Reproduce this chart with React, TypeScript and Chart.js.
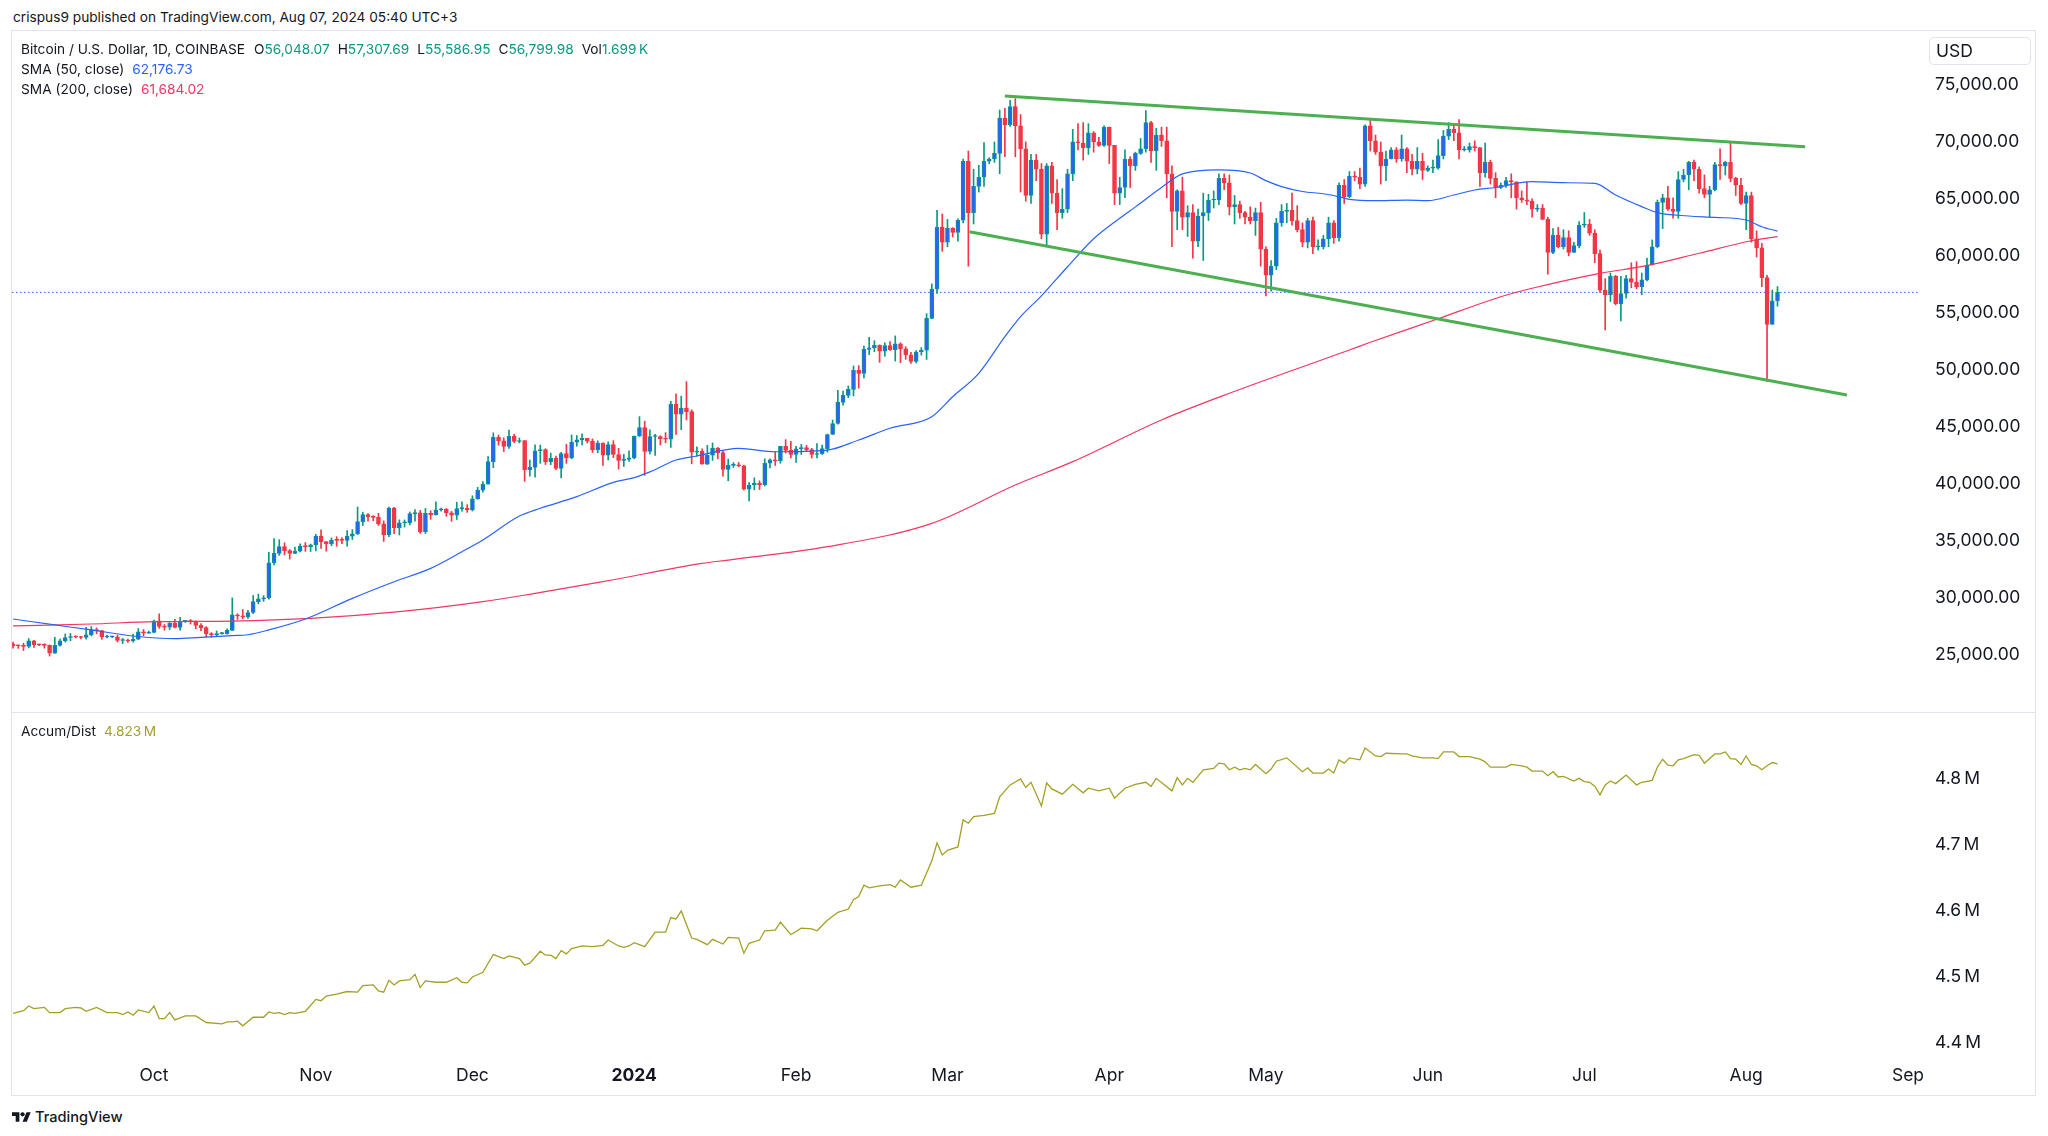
import React, { useEffect, useRef } from "react";
import { Chart, registerables } from "chart.js";

Chart.register(...registerables);

const FONT = "Inter, 'Noto Sans', Roboto, sans-serif";
const TEXT = "#131722";
const UP_BODY = "#2962FF";
const UP_WICK = "#089981";
const DOWN = "#F23645";
const SMA50_COLOR = "#2962FF";
const SMA200_COLOR = "#F23661";
const AD_COLOR = "#A3A026";
const TREND_COLOR = "#4CAF50";
const FRAME = "#E0E3EB";

// x axis = days since 1 Oct 2023
const X_MIN = -27.2;
const X_MAX = 338.3;
const monthTickDays = [0, 31, 61, 92, 123, 152, 183, 213, 244, 274, 305, 336];
const monthTickLabels = ["Oct", "Nov", "Dec", "2024", "Feb", "Mar", "Apr", "May", "Jun", "Jul", "Aug", "Sep"];
const priceTicks = [25000, 30000, 35000, 40000, 45000, 50000, 55000, 60000, 65000, 70000, 75000];
const adTicks = [4.4, 4.5, 4.6, 4.7, 4.8];
const PRICE_MIN = 19991;
const PRICE_MAX = 79728;
const AD_MIN = 4.3742;
const AD_MAX = 4.9;

// Daily candles [high, low, close]; open of each day = previous day's close
const openSep4 = 25970;
const sep2023 = [
  [26120, 25600, 25820], [25880, 25570, 25790], [26020, 25380, 25750], [26430, 25610, 26240], [26280, 25660, 25900],
  [25940, 25800, 25890], [25980, 25590, 25840], [25880, 24900, 25160], [26550, 25130, 25840], [26390, 25770, 26230],
  [26840, 26130, 26530], [26880, 26230, 26600], [26680, 26480, 26570], [26620, 26410, 26530], [27410, 26390, 26760],
  [27490, 26670, 27210], [27380, 26850, 27130], [27160, 26370, 26570], [26740, 26480, 26580], [26640, 26510, 26580],
  [26730, 26130, 26260], [26440, 25990, 26300], [26390, 26090, 26220], [26830, 26120, 26370], [27310, 26340, 27030],
  [27230, 26670, 26910], [27090, 26890, 26970],
];
const oct2023 = [
  [28050, 26960, 27990], [28600, 27330, 27500], [27670, 27170, 27430], [27830, 27220, 27790], [28120, 27360, 27410],
  [28290, 27180, 27950], [28020, 27850, 27970], [28110, 27700, 27930], [27990, 27290, 27590], [27740, 27120, 27390],
  [27480, 26560, 26870], [26960, 26550, 26760], [27100, 26690, 26860], [26970, 26820, 26860], [27290, 26810, 27150],
  [30000, 27120, 28520], [28610, 28110, 28410], [28980, 28160, 28330], [28910, 28190, 28720], [30210, 28620, 29680],
  [30340, 29480, 29920], [30200, 29700, 29990], [33990, 29880, 33080], [35200, 32900, 33900], [35100, 33730, 34500],
  [34830, 33770, 34150], [34240, 33400, 33900], [34460, 33880, 34090], [34740, 34040, 34540], [34850, 34080, 34500],
  [34720, 34070, 34650],
];
const nov2023 = [
  [35570, 34120, 35420], [35980, 34350, 34940], [34940, 34100, 34730], [35270, 34580, 35080], [35370, 34530, 35050],
  [35290, 34750, 35040], [35900, 34530, 35420], [35990, 35120, 35630], [37970, 35550, 36690], [37520, 36350, 37310],
  [37400, 36720, 37130], [37220, 36770, 37070], [37420, 36350, 36490], [36760, 34950, 35550], [37960, 35370, 37880],
  [37940, 35630, 36160], [36850, 35520, 36590], [36840, 36210, 36590], [37540, 36400, 37390], [37750, 36740, 37460],
  [37670, 35660, 35800], [37850, 35650, 37420], [37640, 36890, 37290], [38420, 37250, 37720], [37880, 37600, 37790],
  [37840, 37160, 37460], [37590, 36720, 37250], [38390, 36880, 37830], [38430, 37600, 37850], [38170, 37500, 37720],
];
const dec2023 = [
  [38960, 37620, 38690], [39700, 38650, 39450], [40200, 39280, 39970], [42400, 39970, 41950], [44480, 41420, 44080],
  [44290, 43400, 43770], [44050, 42840, 43290], [44710, 43110, 44170], [44360, 43610, 43720], [44030, 43590, 43790],
  [43800, 40220, 41240], [42100, 40680, 41450], [43430, 40600, 42890], [43400, 41800, 43020], [43090, 41700, 41930],
  [42700, 41680, 42240], [42430, 41250, 41360], [42760, 40530, 42660], [43480, 41800, 42270], [44290, 42200, 43660],
  [44230, 43300, 43860], [44400, 43410, 43990], [44000, 43590, 43740], [43950, 42760, 43010], [43780, 42740, 43590],
  [43600, 41630, 42520], [43680, 42110, 43440], [43790, 42310, 42580], [43130, 41300, 42070], [42600, 41530, 42140],
  [42890, 41970, 42280],
];
const jan2024 = [
  [44200, 42190, 44180], [45900, 44170, 44950], [45500, 40750, 42840], [44750, 42630, 44160], [44350, 42500, 44160],
  [44230, 43420, 43970], [44500, 43600, 43930], [47250, 43200, 46970], [47900, 44340, 46120], [47700, 44750, 46650],
  [48970, 45610, 46340], [46500, 41760, 42780], [43250, 42440, 42850], [43070, 41720, 41730], [43380, 41700, 42510],
  [43590, 42060, 43150], [43200, 42200, 42740], [42930, 40680, 41260], [42180, 40270, 41620], [41870, 41450, 41660],
  [41880, 41500, 41580], [41650, 39440, 39530], [40120, 38510, 39900], [40530, 39480, 40080], [40270, 39500, 39930],
  [42200, 39820, 41810], [42200, 41400, 42120], [42830, 41620, 42030], [43310, 41810, 43300], [43880, 42700, 42940],
  [43740, 42280, 42580],
];
const feb2024 = [
  [43290, 41880, 43080], [43470, 42580, 43190], [43380, 42880, 43000], [43120, 42270, 42580], [43530, 42270, 42660],
  [43400, 42580, 43090], [44370, 42780, 44330], [45600, 44330, 45300], [48200, 45240, 47150], [48150, 46900, 47770],
  [48590, 47570, 48290], [50350, 47720, 49960], [50380, 48400, 49700], [52080, 49300, 51800], [52850, 51340, 51930],
  [52560, 51600, 52160], [52200, 50660, 51650], [52380, 51200, 52130], [52480, 51700, 51780], [52980, 50770, 52280],
  [52380, 50630, 51850], [52030, 50930, 51320], [51550, 50560, 50740], [51700, 50610, 51570], [51960, 51290, 51730],
  [54930, 50920, 54520], [57550, 54480, 57090], [64000, 56700, 62500], [63680, 60400, 61200],
];
const mar2024 = [
  [63200, 60800, 62440], [62480, 61670, 62050], [63250, 61300, 63130], [68500, 62890, 68300], [69200, 59100, 63800],
  [67600, 62800, 66100], [67950, 65600, 66900], [69950, 66100, 68300], [68600, 68080, 68500], [70000, 68200, 69000],
  [72800, 67200, 72100], [72950, 68700, 71480], [73650, 71350, 73100], [73800, 68700, 71400], [72400, 65600, 69400],
  [70000, 64800, 65300], [68900, 64600, 68400], [68900, 66600, 67600], [68100, 61500, 61900], [68100, 60800, 67900],
  [68200, 64600, 65500], [66700, 62300, 63800], [65900, 63300, 64100], [67600, 63800, 67200], [71100, 66600, 70000],
  [71600, 69300, 69900], [71700, 68400, 69500], [71600, 68900, 70800], [70900, 69100, 70000], [70400, 69600, 69700],
  [71400, 69600, 71300],
];
const apr2024 = [
  [71300, 68100, 69700], [69700, 64500, 65500], [66900, 64500, 66000], [69300, 65100, 68500], [68700, 66000, 67900],
  [69100, 67500, 69000], [70300, 68900, 69400], [72750, 69100, 71700], [71800, 68200, 69200], [71200, 67500, 70600],
  [71300, 69600, 70100], [71300, 65100, 67200], [67900, 60800, 63900], [65800, 62300, 65700], [66900, 62300, 63400],
  [64400, 61700, 63800], [64500, 59800, 61300], [64100, 60800, 63500], [65500, 59600, 63800], [65400, 63100, 64900],
  [65700, 64200, 64900], [67200, 64500, 66800], [67200, 65800, 66400], [67100, 63600, 64300], [65300, 62800, 64500],
  [64800, 63300, 63800], [63900, 62800, 63400], [64300, 62800, 63100], [64200, 61800, 63800], [64700, 59100, 60600],
];
const may2024 = [
  [60800, 56500, 58300], [59600, 56900, 59100], [63300, 58800, 62900], [64500, 62600, 63900], [64600, 62900, 64000],
  [65500, 62700, 63100], [64400, 62100, 62300], [62900, 60800, 61200], [63300, 60700, 63100], [63400, 60200, 60800],
  [61400, 60500, 60800], [61800, 60600, 61500], [63400, 60800, 62900], [63100, 61100, 61600], [66400, 61300, 66200],
  [66700, 64600, 65200], [67400, 65100, 67000], [67400, 66600, 66900], [67700, 65900, 66300], [71500, 66100, 71400],
  [71900, 69200, 70100], [70600, 68900, 69100], [70000, 66300, 67900], [69200, 66600, 68500], [69500, 68500, 69300],
  [69500, 68200, 68500], [70600, 68300, 69400], [69500, 67300, 68300], [68900, 67100, 67600], [69500, 67200, 68300],
  [69000, 66700, 67500],
];
const jun2024 = [
  [67900, 67400, 67700], [68400, 67300, 67700], [70200, 67600, 68800], [71000, 68500, 70500], [71700, 70200, 71100],
  [71600, 70100, 70800], [71950, 68500, 69300], [69600, 69200, 69300], [69900, 69100, 69600], [70100, 69200, 69500],
  [69500, 66100, 67300], [69900, 66900, 68200], [68400, 66300, 66800], [67300, 65100, 66000], [66400, 65900, 66200],
  [66900, 66000, 66600], [67200, 65100, 66500], [66500, 64100, 65100], [65700, 64700, 64900], [66500, 64500, 64800],
  [65000, 63400, 64100], [64500, 63900, 64200], [64500, 63200, 63200], [63400, 58400, 60300], [62400, 60200, 61800],
  [62500, 60700, 60800], [62300, 60600, 61600], [62200, 60000, 60300], [61200, 60300, 60900], [63000, 60700, 62700],
];
const jul2024 = [
  [63800, 62500, 62800], [63200, 61800, 62000], [62300, 59400, 60200], [60500, 56800, 57000], [58000, 53500, 56600],
  [58500, 56000, 58200], [58300, 55700, 55800], [58200, 54300, 56700], [58300, 56300, 58000], [59400, 57200, 57700],
  [59500, 57100, 57300], [58500, 56600, 57900], [59800, 57800, 59200], [61400, 59200, 60800], [64900, 60700, 64700],
  [65400, 62400, 65100], [66100, 64000, 64100], [65100, 63300, 63900], [67400, 63300, 66700], [67600, 66500, 67100],
  [68300, 65800, 68200], [68400, 66600, 67600], [67800, 65500, 65900], [67100, 65100, 65400], [66100, 63400, 65800],
  [68200, 65700, 68000], [69400, 66700, 67900], [68300, 67100, 68200], [70000, 66500, 66800], [66900, 65300, 66200],
  [66800, 64500, 64600],
];
const aug2024 = [
  [65600, 62300, 65300], [65600, 61200, 61500], [62200, 59900, 60700], [61100, 57300, 58100], [58300, 49000, 54000],
  [57000, 54000, 56048.07], [57307.69, 55586.95, 56799.98],
];

const monthBlocks: [number, number[][]][] = [
  [-27, sep2023], [0, oct2023], [31, nov2023], [61, dec2023], [92, jan2024], [123, feb2024],
  [152, mar2024], [183, apr2024], [213, may2024], [244, jun2024], [274, jul2024], [305, aug2024],
];

// [day, value]
const sma50 = [
  [-27, 28150], [-19, 27630], [-12, 27190], [-4, 26660], [4, 26420], [9, 26540], [15, 26690], [18, 26770],
  [22, 27190], [29, 28150], [38, 29960], [46, 31420], [53, 32590], [59, 34050], [63, 35080], [70, 37180],
  [74, 37860], [81, 38880], [88, 40140], [92, 40550], [95, 41050], [100, 42100], [104, 42450], [112, 43120],
  [119, 42820], [129, 42970], [135, 43850], [141, 44880], [149, 45900], [153, 47650], [158, 49700], [163, 52910],
  [166, 54670], [170, 56500], [175, 59050], [180, 61500], [185, 63300], [188, 64300], [193, 66000], [197, 67200],
  [204, 67540], [210, 67270], [213, 66600], [216, 66080], [220, 65650], [224, 65450], [227, 65190], [229, 64950],
  [234, 64840], [240, 64900], [244, 64840], [249, 65340], [253, 65780], [257, 66000], [264, 66510], [270, 66420],
  [276, 66370], [280, 65340], [285, 64320], [288, 63790], [294, 63500], [299, 63380], [305, 63150], [308, 62560],
  [311, 62177],
];
const sma200 = [
  [-27, 27540], [-12, 27710], [0, 27910], [15, 27970], [30, 28200], [47, 28790], [63, 29670], [73, 30400],
  [86, 31420], [105, 33030], [110, 33320], [129, 34490], [149, 36540], [165, 39900], [176, 41950], [193, 45610],
  [206, 47950], [229, 51750], [233, 52420], [246, 54490], [258, 56420], [264, 57160], [277, 58470], [286, 59140],
  [296, 60230], [306, 61330], [311, 61684],
];
const upperTrend = [[163, 74030], [316.3, 69580]];
const lowerTrend = [[156.2, 62120], [324.3, 47800]];
const lastPrice = 56799.98;

// Accumulation/Distribution, millions
const accDist = [
  [-27, 4.445], [-25, 4.449], [-24, 4.456], [-23, 4.452], [-21, 4.454], [-20, 4.446], [-18, 4.446], [-17, 4.452],
  [-15, 4.454], [-14, 4.453], [-13, 4.448], [-11, 4.454], [-9, 4.446], [-7, 4.446], [-6, 4.443], [-5, 4.447],
  [-4, 4.442], [-3, 4.45], [-1, 4.446], [0, 4.456], [1, 4.437], [2, 4.437], [3, 4.446], [4, 4.435], [6, 4.441],
  [8, 4.441], [10, 4.431], [13, 4.429], [14, 4.432], [15, 4.432], [16, 4.433], [17, 4.426], [19, 4.439], [21, 4.439],
  [22, 4.447], [23, 4.445], [24, 4.446], [25, 4.443], [26, 4.446], [27, 4.445], [29, 4.448], [31, 4.466], [32, 4.464],
  [33, 4.471], [35, 4.474], [37, 4.478], [39, 4.477], [40, 4.487], [42, 4.488], [43, 4.479], [44, 4.477], [45, 4.495],
  [46, 4.488], [47, 4.494], [49, 4.496], [50, 4.504], [51, 4.484], [52, 4.494], [54, 4.492], [56, 4.492], [58, 4.499],
  [59, 4.492], [60, 4.491], [61, 4.5], [63, 4.507], [65, 4.534], [67, 4.528], [68, 4.532], [70, 4.528], [71, 4.518],
  [72, 4.521], [74, 4.539], [75, 4.533], [76, 4.533], [77, 4.528], [78, 4.54], [79, 4.535], [80, 4.543], [82, 4.547],
  [84, 4.546], [86, 4.548], [87, 4.556], [89, 4.547], [90, 4.545], [91, 4.547], [92, 4.552], [94, 4.546], [96, 4.568],
  [98, 4.568], [99, 4.59], [100, 4.588], [101, 4.6], [103, 4.559], [104, 4.557], [106, 4.549], [107, 4.557], [109, 4.55],
  [110, 4.56], [112, 4.559], [113, 4.536], [114, 4.551], [116, 4.556], [117, 4.57], [119, 4.571], [120, 4.583],
  [122, 4.564], [124, 4.574], [126, 4.573], [127, 4.57], [129, 4.586], [131, 4.598], [133, 4.603], [134, 4.617],
  [135, 4.622], [136, 4.639], [137, 4.635], [139, 4.638], [141, 4.64], [142, 4.636], [143, 4.647], [145, 4.636],
  [147, 4.639], [149, 4.676], [150, 4.703], [151, 4.685], [152, 4.692], [154, 4.697], [155, 4.738], [156, 4.733],
  [157, 4.743], [159, 4.745], [161, 4.748], [162, 4.773], [164, 4.791], [166, 4.8], [167, 4.787], [168, 4.795],
  [170, 4.759], [171, 4.794], [172, 4.785], [174, 4.777], [176, 4.792], [178, 4.779], [179, 4.786], [181, 4.782],
  [183, 4.786], [184, 4.771], [186, 4.786], [188, 4.792], [190, 4.795], [191, 4.789], [192, 4.801], [195, 4.782],
  [196, 4.802], [197, 4.791], [198, 4.801], [199, 4.795], [201, 4.814], [203, 4.816], [204, 4.824], [205, 4.823],
  [206, 4.814], [207, 4.818], [208, 4.814], [209, 4.816], [210, 4.814], [211, 4.822], [213, 4.808], [214, 4.815],
  [215, 4.827], [217, 4.832], [220, 4.811], [221, 4.817], [222, 4.809], [224, 4.809], [225, 4.815], [226, 4.809],
  [227, 4.829], [228, 4.824], [229, 4.832], [231, 4.829], [232, 4.847], [234, 4.835], [235, 4.834], [236, 4.839],
  [239, 4.838], [240, 4.838], [241, 4.835], [243, 4.832], [245, 4.832], [246, 4.831], [247, 4.841], [249, 4.841],
  [250, 4.834], [252, 4.834], [254, 4.83], [255, 4.826], [256, 4.818], [259, 4.818], [260, 4.822], [262, 4.82],
  [263, 4.818], [264, 4.812], [266, 4.812], [267, 4.805], [268, 4.811], [269, 4.803], [270, 4.804], [272, 4.797],
  [273, 4.801], [274, 4.796], [275, 4.795], [276, 4.789], [277, 4.776], [278, 4.791], [279, 4.797], [280, 4.793],
  [282, 4.806], [284, 4.791], [285, 4.795], [287, 4.798], [288, 4.818], [289, 4.83], [290, 4.821], [291, 4.82],
  [292, 4.829], [293, 4.831], [295, 4.837], [296, 4.836], [297, 4.824], [299, 4.838], [300, 4.838], [301, 4.841],
  [302, 4.831], [303, 4.83], [304, 4.822], [305, 4.835], [306, 4.822], [307, 4.82], [308, 4.814], [309, 4.82],
  [310, 4.825], [311, 4.823],
];

type Candle = { x: number; o: number; h: number; l: number; c: number };

function buildCandles(): Candle[] {
  const out: Candle[] = [];
  let prev = openSep4;
  for (const [start, rows] of monthBlocks) {
    rows.forEach((r, i) => {
      out.push({ x: start + i, o: prev, h: r[0], l: r[1], c: r[2] });
      prev = r[2];
    });
  }
  return out;
}

const pts = (arr: number[][]) => arr.map(([x, y]) => ({ x, y }));

const noGrid = { display: false, drawTicks: false };

export default function App() {
  const topRef = useRef<HTMLCanvasElement | null>(null);
  const botRef = useRef<HTMLCanvasElement | null>(null);

  useEffect(() => {
    Chart.defaults.font.family = FONT;
    const candles = buildCandles();
    const isUp = (k: Candle) => k.c >= k.o;

    const top = new Chart(topRef.current as HTMLCanvasElement, {
      type: "bar",
      data: {
        datasets: [
          { type: "line", data: pts(upperTrend), borderColor: TREND_COLOR, borderWidth: 3, pointRadius: 0, order: 0 } as any,
          { type: "line", data: pts(lowerTrend), borderColor: TREND_COLOR, borderWidth: 3, pointRadius: 0, order: 0 } as any,
          { type: "line", data: pts(sma50), borderColor: SMA50_COLOR, borderWidth: 1.2, pointRadius: 0, cubicInterpolationMode: "monotone", order: 1 } as any,
          { type: "line", data: pts(sma200), borderColor: SMA200_COLOR, borderWidth: 1.2, pointRadius: 0, cubicInterpolationMode: "monotone", order: 1 } as any,
          {
            type: "bar",
            data: candles.map((k) => ({ x: k.x, y: [k.o, k.c] })),
            backgroundColor: candles.map((k) => (isUp(k) ? UP_BODY : DOWN)),
            borderColor: candles.map((k) => (isUp(k) ? UP_WICK : DOWN)),
            borderWidth: 1,
            borderSkipped: false,
            barThickness: 4,
            grouped: false,
            minBarLength: 1,
            order: 2,
          } as any,
          {
            type: "bar",
            data: candles.map((k) => ({ x: k.x, y: [k.l, k.h] })),
            backgroundColor: candles.map((k) => (isUp(k) ? UP_WICK : DOWN)),
            borderWidth: 0,
            barThickness: 1,
            grouped: false,
            order: 3,
          } as any,
          {
            type: "line",
            data: [{ x: X_MIN, y: lastPrice }, { x: X_MAX, y: lastPrice }],
            borderColor: "#2962FF",
            borderWidth: 1,
            borderDash: [1.5, 2.5],
            pointRadius: 0,
            order: 4,
          } as any,
        ],
      },
      options: {
        animation: false,
        responsive: false,
        events: [],
        layout: { padding: 0 },
        plugins: { legend: { display: false }, tooltip: { enabled: false } },
        scales: {
          x: { type: "linear", min: X_MIN, max: X_MAX, offset: false, display: false, grid: noGrid },
          y: {
            type: "linear",
            position: "right",
            min: PRICE_MIN,
            max: PRICE_MAX,
            beginAtZero: false,
            grid: noGrid,
            border: { display: false },
            afterBuildTicks: (s: any) => { s.ticks = priceTicks.map((v) => ({ value: v })); },
            afterFit: (s: any) => { s.width = 115; s.paddingTop = 0; s.paddingBottom = 0; },
            ticks: {
              autoSkip: false,
              padding: 15,
              color: TEXT,
              font: { family: FONT, size: 17.5 },
              callback: (v: any) => Number(v).toLocaleString("en-US", { minimumFractionDigits: 2, maximumFractionDigits: 2 }),
            },
          },
        },
      } as any,
    });

    const bot = new Chart(botRef.current as HTMLCanvasElement, {
      type: "line",
      data: {
        datasets: [
          { data: pts(accDist), borderColor: AD_COLOR, borderWidth: 1.3, pointRadius: 0, tension: 0 } as any,
        ],
      },
      options: {
        animation: false,
        responsive: false,
        events: [],
        layout: { padding: 0 },
        plugins: { legend: { display: false }, tooltip: { enabled: false } },
        scales: {
          x: {
            type: "linear",
            position: "bottom",
            min: X_MIN,
            max: X_MAX,
            offset: false,
            grid: noGrid,
            border: { display: false },
            afterBuildTicks: (s: any) => { s.ticks = monthTickDays.map((v) => ({ value: v })); },
            afterFit: (s: any) => { s.height = 35; s.paddingLeft = 0; s.paddingRight = 0; },
            ticks: {
              autoSkip: false,
              maxRotation: 0,
              padding: 5.5,
              color: TEXT,
              font: (ctx: any) => ({ family: FONT, size: 17.5, weight: ctx.tick && ctx.tick.value === 92 ? "bold" : "normal" }),
              callback: (v: any) => {
                const i = monthTickDays.indexOf(Number(v));
                return i >= 0 ? monthTickLabels[i] : "";
              },
            },
          },
          y: {
            type: "linear",
            position: "right",
            min: AD_MIN,
            max: AD_MAX,
            grid: noGrid,
            border: { display: false },
            afterBuildTicks: (s: any) => { s.ticks = adTicks.map((v) => ({ value: v })); },
            afterFit: (s: any) => { s.width = 115; s.paddingTop = 0; s.paddingBottom = 0; },
            ticks: {
              autoSkip: false,
              padding: 15,
              color: TEXT,
              font: { family: FONT, size: 17.5 },
              callback: (v: any) => Number(v).toFixed(1) + "\u2009M",
            },
          },
        },
      } as any,
    });

    return () => {
      top.destroy();
      bot.destroy();
    };
  }, []);

  const abs = (o: React.CSSProperties): React.CSSProperties => ({ position: "absolute", ...o });
  const row: React.CSSProperties = { fontSize: 13.7, lineHeight: "20px", color: TEXT, whiteSpace: "nowrap" };

  return (
    <div style={abs({ left: 0, top: 0, width: 2048, height: 1136, background: "#fff", fontFamily: FONT, overflow: "hidden" })}>
      <div style={abs({ left: 13, top: 7, ...row })}>crispus9 published on TradingView.com, Aug 07, 2024 05:40 UTC+3</div>

      <div style={abs({ left: 11, top: 30, width: 2025, height: 1066, border: `1px solid ${FRAME}`, boxSizing: "border-box" })} />
      <canvas ref={topRef} width={2023} height={681} style={abs({ left: 12, top: 31, width: 2023, height: 681 })} />
      <div style={abs({ left: 12, top: 712, width: 2023, height: 1, background: FRAME })} />
      <canvas ref={botRef} width={2023} height={382} style={abs({ left: 12, top: 713, width: 2023, height: 382 })} />

      <div style={abs({ left: 21, top: 39, ...row })}>
        <span>Bitcoin / U.S. Dollar, 1D, COINBASE</span>
        <span style={{ marginLeft: 9 }}>O<span style={{ color: UP_WICK }}>56,048.07</span></span>
        <span style={{ marginLeft: 8 }}>H<span style={{ color: UP_WICK }}>57,307.69</span></span>
        <span style={{ marginLeft: 8 }}>L<span style={{ color: UP_WICK }}>55,586.95</span></span>
        <span style={{ marginLeft: 8 }}>C<span style={{ color: UP_WICK }}>56,799.98</span></span>
        <span style={{ marginLeft: 8 }}>Vol<span style={{ color: UP_WICK }}>1.699{"\u2009"}K</span></span>
      </div>
      <div style={abs({ left: 21, top: 59, ...row })}>
        <span>SMA (50, close)</span>
        <span style={{ marginLeft: 8, color: SMA50_COLOR }}>62,176.73</span>
      </div>
      <div style={abs({ left: 21, top: 79, ...row })}>
        <span>SMA (200, close)</span>
        <span style={{ marginLeft: 8, color: SMA200_COLOR }}>61,684.02</span>
      </div>

      <div style={abs({ left: 1929, top: 37, width: 102, height: 28, border: `1px solid ${FRAME}`, borderRadius: 5, boxSizing: "border-box", background: "#fff" })}>
        <div style={{ position: "absolute", left: 6, top: 0, lineHeight: "26px", fontSize: 17.5, color: TEXT }}>USD</div>
      </div>

      <div style={abs({ left: 21, top: 721, ...row })}>
        <span>Accum/Dist</span>
        <span style={{ marginLeft: 8, color: AD_COLOR }}>4.823{"\u2009"}M</span>
      </div>

      <div style={abs({ left: 12, top: 1110, display: "flex", alignItems: "center" })}>
        <svg width="19" height="15" viewBox="0 0 36 28" fill={TEXT}>
          <path d="M14 22H7V11H0V4h14v18zM28 22h-8l7.5-18h8L28 22z" />
          <circle cx="20" cy="8" r="4" />
        </svg>
        <span style={{ marginLeft: 4, fontSize: 14.6, fontWeight: 500, color: TEXT, lineHeight: "15px" }}>TradingView</span>
      </div>
    </div>
  );
}
